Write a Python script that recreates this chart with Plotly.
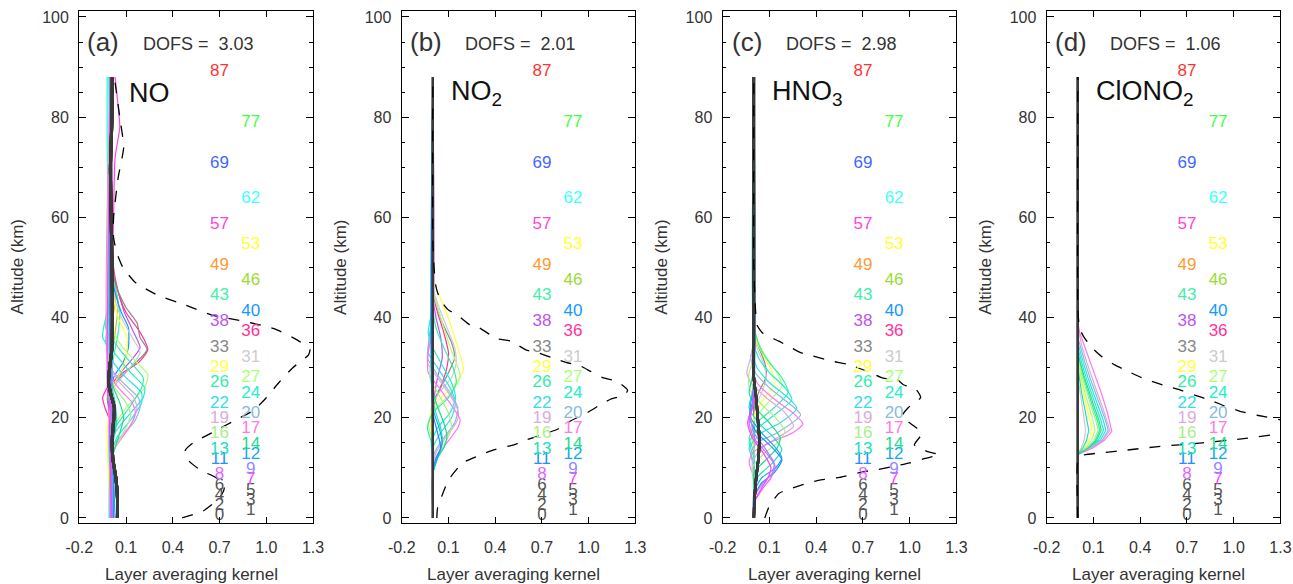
import plotly.graph_objects as go

# ---------------------------------------------------------------- data
# retrieval layer bottoms (km); label colours follow the layer
LAYERS = [0, 1, 2, 3, 4, 5, 6, 7, 8, 9, 11, 12, 13, 14, 16, 17, 19, 20, 22, 24,
          26, 27, 29, 31, 33, 36, 38, 40, 43, 46, 49, 53, 57, 62, 69, 77, 87]
LAYER_COLORS = ['#555555'] * 7 + [
    '#ff40ff', '#dd66ff', '#9988ff', '#1e90ff', '#11aaee', '#22ddbb', '#22dd88',
    '#aaee88', '#ff77ee', '#ddaadd', '#88bbdd', '#33ddee', '#22eecc', '#33eeaa',
    '#aaff77', '#ffff44', '#cccccc', '#888888', '#ff3399', '#bb55ee', '#1199ff',
    '#44eeaa', '#99dd33', '#ff9933', '#ffff33', '#ff44dd', '#44ffff', '#4466ff',
    '#44ff44', '#ff3333']

PANEL_TAGS = ['(a)', '(b)', '(c)', '(d)']
SPECIES = ['NO', 'NO<sub>2</sub>', 'HNO<sub>3</sub>', 'ClONO<sub>2</sub>']
DOFS = [3.03, 2.01, 2.98, 1.06]

X_TICKS = [-0.2, 0.1, 0.4, 0.7, 1.0, 1.3]
X_TICK_TEXT = ['-0.2', '0.1', '0.4', '0.7', '1.0', '1.3']
Y_TICKS = [0, 20, 40, 60, 80, 100]

# averaging-kernel rows: layer -> [[altitude km, kernel value], ...]
KERNELS_NO = {
    87: [[0, 0.0], [40, 0.0], [60, 0.0], [75, 0.01], [88, 0.02]],
    77: [[0, 0.0], [45, 0.0], [60, -0.01], [75, -0.02], [88, -0.02]],
    69: [[0, 0.01], [45, 0.01], [70, 0.01], [88, 0.0]],
    62: [[0, -0.01], [40, -0.01], [55, -0.015], [72, -0.02], [88, -0.02]],
    57: [[0, 0.0], [45, 0.01], [60, 0.02], [72, 0.03], [78, 0.06], [82, 0.05], [88, 0.03]],
    53: [[0, 0.0], [40, 0.0], [50, 0.02], [60, 0.0], [88, 0.0]],
    49: [[0, 0.0], [35, 0.0], [44, 0.03], [50, 0.02], [58, 0.0], [88, 0.0]],
    46: [[0, 0.0], [30, 0.0], [37, 0.03], [43, 0.05], [48, 0.02], [55, 0.0], [88, 0.0]],
    43: [[0, 0.0], [26, 0.0], [32, 0.02], [37, 0.05], [41, 0.06], [46, 0.03], [52, 0.0], [88, 0.0]],
    40: [[0, 0.0], [22, 0.0], [28, 0.02], [31, 0.08], [34, 0.115], [38, 0.115], [41, 0.07],
         [45, 0.03], [50, 0.0], [88, 0.0]],
    38: [[0, 0.0], [24, 0.0], [28, 0.04], [31, 0.12], [34, 0.19], [37, 0.15], [41, 0.09],
         [44, 0.06], [50, 0.01], [88, 0.0]],
    36: [[0, 0.0], [19, 0.0], [22, -0.035], [24, -0.05], [26, -0.02], [29, 0.08], [31, 0.18],
         [33.6, 0.24], [36, 0.21], [38, 0.17], [41, 0.1], [44, 0.06], [50, 0.02], [88, 0.01]],
    33: [[0, 0.0], [20, 0.0], [24, -0.02], [27, 0.03], [30, 0.13], [33.6, 0.235], [36, 0.19],
         [39, 0.17], [42, 0.1], [46, 0.04], [52, 0.01], [88, 0.01]],
    31: [[0, 0.0], [22, 0.0], [26, 0.02], [29, 0.1], [33, 0.19], [36, 0.14], [40, 0.07],
         [45, 0.02], [88, 0.0]],
    29: [[0, 0.0], [14, -0.02], [18, -0.02], [22, 0.0], [27, 0.03], [30, 0.08], [33, 0.105],
         [36, 0.105], [40, 0.05], [44, 0.02], [50, 0.0], [88, 0.0]],
    27: [[0, 0.0], [14, 0.0], [18, 0.02], [22, 0.1], [26, 0.22], [28.6, 0.24], [31, 0.17],
         [34, 0.08], [38, 0.0], [42, -0.01], [88, 0.0]],
    26: [[0, 0.01], [14, 0.0], [18, 0.03], [22, 0.12], [26, 0.2], [28, 0.21], [31, 0.13],
         [34, 0.05], [38, -0.03], [42, -0.01], [88, -0.01]],
    24: [[0, 0.0], [13, 0.0], [17, 0.03], [21, 0.13], [24, 0.21], [26, 0.22], [29, 0.13],
         [32, 0.05], [36, -0.05], [40, -0.03], [45, 0.0], [88, 0.0]],
    22: [[0, 0.0], [12, 0.0], [16, 0.04], [20, 0.14], [23, 0.2], [25, 0.2], [28, 0.1],
         [31, 0.02], [35, -0.03], [40, -0.01], [88, 0.0]],
    20: [[0, 0.02], [12, 0.0], [15, 0.03], [19, 0.15], [22, 0.19], [24, 0.18], [27, 0.08],
         [30, 0.0], [34, -0.02], [40, 0.0], [88, 0.0]],
    19: [[0, 0.01], [11, 0.0], [15, 0.04], [19, 0.14], [22, 0.17], [24, 0.15], [27, 0.06],
         [30, 0.0], [88, 0.0]],
    17: [[0, 0.0], [11, 0.0], [14, 0.03], [18, 0.12], [21, 0.16], [23, 0.14], [26, 0.05],
         [29, -0.01], [88, 0.0]],
    16: [[0, 0.0], [10, 0.0], [14, 0.03], [18, 0.1], [20.5, 0.13], [23, 0.1], [26, 0.03],
         [29, -0.01], [88, 0.0]],
    14: [[0, 0.01], [9, 0.0], [13, 0.02], [17, 0.06], [20, 0.085], [23, 0.06], [27, 0.01], [88, 0.0]],
    13: [[0, 0.02], [9, 0.01], [14, 0.01], [19, 0.04], [23, 0.03], [28, 0.0], [88, 0.0]],
    12: [[0, 0.03], [8, 0.02], [14, 0.01], [19, 0.03], [24, 0.01], [88, 0.0]],
    11: [[0, 0.02], [8, 0.02], [14, 0.0], [20, 0.02], [26, 0.0], [88, 0.0]],
    9: [[0, 0.01], [8, 0.01], [14, 0.0], [22, 0.01], [88, 0.0]],
    8: [[0, 0.0], [8, 0.0], [15, 0.01], [22, 0.0], [88, 0.0]],
    7: [[0, 0.01], [10, 0.0], [22, -0.01], [26, -0.02], [88, 0.0]],
}
LOW_NO = [[0, 0.045], [4, 0.045], [8, 0.035], [12, 0.015], [16, 0.012], [20, 0.022],
          [22, 0.025], [25, 0.0], [27, -0.012], [30, -0.005], [34, 0.01], [45, 0.012],
          [60, 0.005], [70, 0.0], [80, 0.01], [88, 0.012]]

KERNELS_NO2 = {
    38: [[0, 0], [22, 0], [28, 0.03], [32, 0.06], [36, 0.05], [40, 0.02], [44, 0], [88, 0]],
    36: [[0, 0], [20, 0], [24, 0.02], [27, 0.06], [30, 0.09], [33, 0.1], [37, 0.07], [41, 0.03],
         [45, 0], [88, 0]],
    33: [[0, 0], [19, 0], [23, 0.0], [26, 0.05], [29, 0.1], [32, 0.14], [35, 0.12], [39, 0.06],
         [43, 0.02], [46, 0], [88, 0]],
    31: [[0, 0], [18, 0], [22, -0.01], [25, 0.04], [28, 0.12], [31, 0.15], [34, 0.14], [38, 0.09],
         [42, 0.04], [46, 0], [88, 0]],
    29: [[0, 0], [16, 0], [20, -0.02], [23, 0.02], [26, 0.12], [29.6, 0.197], [33, 0.17],
         [36, 0.14], [39, 0.11], [43, 0.06], [47, 0.01], [88, 0]],
    27: [[0, 0], [15, 0], [19, -0.03], [22, 0.02], [25, 0.12], [28.3, 0.175], [31, 0.15],
         [35, 0.1], [39, 0.06], [43, 0.02], [46, 0], [88, 0]],
    26: [[0, 0], [14, 0], [18, -0.035], [21, 0.0], [24, 0.1], [27, 0.15], [30, 0.13], [34, 0.07],
         [38, 0.02], [42, 0], [88, 0]],
    24: [[0, 0], [12, 0], [15, -0.01], [18, 0.03], [21, 0.11], [24, 0.145], [27, 0.12], [31, 0.05],
         [34, 0.0], [37, -0.03], [41, -0.01], [88, 0]],
    22: [[0, 0], [11, 0], [14, 0.0], [17, 0.05], [20, 0.12], [23, 0.145], [26, 0.11], [30, 0.03],
         [33, -0.03], [37, -0.02], [41, 0], [88, 0]],
    20: [[0, 0], [10, 0], [13, 0.01], [16, 0.07], [19, 0.14], [22, 0.16], [25, 0.11], [29, 0.02],
         [32, -0.035], [36, -0.02], [40, 0], [88, 0]],
    19: [[0, 0], [10, 0], [13, 0.02], [16, 0.08], [19, 0.15], [21, 0.165], [24, 0.12], [28, 0.03],
         [31, -0.035], [35, -0.02], [39, 0], [88, 0]],
    17: [[0, 0], [9, 0], [12, 0.02], [15, 0.09], [18, 0.16], [19.6, 0.175], [22, 0.13], [26, 0.04],
         [29, -0.03], [33, -0.03], [38, 0], [88, 0]],
    16: [[0, 0], [9, 0], [12, 0.02], [15, 0.08], [18, 0.12], [21, 0.1], [25, 0.03], [28, -0.02],
         [32, -0.01], [36, 0], [88, 0]],
    14: [[0, 0], [9, 0], [12, 0.03], [14, 0.07], [16.3, 0.09], [19, 0.07], [23, 0.02], [27, -0.01],
         [31, 0], [88, 0]],
    13: [[0, 0], [9, 0], [12, 0.03], [15, 0.06], [18, 0.05], [22, 0.01], [26, 0], [88, 0]],
    12: [[0, 0], [9, 0], [12, 0.03], [15, 0.06], [18, 0.04], [22, 0], [88, 0]],
    11: [[0, 0], [9, 0], [12, 0.02], [14, 0.05], [17, 0.03], [21, 0], [88, 0]],
}
LOW_NO2 = [[0, 0.0], [88, 0.0]]

KERNELS_HNO3 = {
    33: [[0, 0], [18, 0], [22, 0.0], [25, 0.03], [28.3, 0.08], [31, 0.07], [35, 0.02], [38, 0], [88, 0]],
    31: [[0, 0], [18, 0], [22, 0.01], [25, 0.05], [28, 0.08], [31, 0.06], [34, 0.02], [37, 0], [88, 0]],
    29: [[0, 0], [15, 0], [18, -0.01], [21, 0.01], [24, 0.07], [26.6, 0.13], [29, 0.12], [32, 0.07],
         [35, 0.02], [38, 0], [88, 0]],
    27: [[0, 0], [14, 0], [17, -0.02], [20, 0.01], [23, 0.09], [26.3, 0.18], [29, 0.15], [32, 0.08],
         [35, 0.03], [38, 0], [88, 0]],
    26: [[0, 0], [13, 0], [16, -0.03], [19, 0.02], [22, 0.13], [25, 0.22], [28, 0.18], [31, 0.1],
         [34, 0.04], [37, 0.01], [40, 0], [88, 0]],
    24: [[0, 0], [12, 0], [15, -0.03], [18, 0.03], [21, 0.15], [23.6, 0.244], [26, 0.2], [29, 0.1],
         [32, 0.03], [35, 0], [88, 0]],
    22: [[0, 0], [11, 0], [14, -0.03], [17, 0.05], [19, 0.17], [21.9, 0.276], [24, 0.22], [27, 0.1],
         [30, 0.02], [33, -0.01], [36, 0], [88, 0]],
    20: [[0, 0], [10, 0], [13, -0.02], [15, 0.02], [17, 0.15], [20.6, 0.3], [23, 0.22], [26, 0.1],
         [29, 0.01], [32, -0.02], [35, 0], [88, 0]],
    19: [[0, 0], [8, 0], [11, -0.01], [14, 0.05], [16, 0.15], [18.3, 0.255], [21, 0.2], [24, 0.08],
         [27, -0.02], [29, -0.045], [32, -0.02], [35, 0], [88, 0]],
    17: [[0, 0], [8, 0], [11, -0.03], [13, -0.01], [15, 0.1], [17, 0.25], [18.8, 0.315], [21, 0.25],
         [24, 0.12], [27, 0.02], [30, -0.01], [33, 0], [88, 0]],
    16: [[0, 0], [7, 0], [10, -0.01], [13, 0.07], [15, 0.15], [17.3, 0.2], [20, 0.14], [23, 0.04],
         [26, -0.03], [29, -0.03], [32, 0], [88, 0]],
    14: [[0, 0], [6, 0], [9, 0.0], [12, 0.09], [14, 0.15], [16, 0.17], [19, 0.1], [22, 0.01],
         [25, -0.03], [28, -0.01], [31, 0], [88, 0]],
    13: [[0, 0], [5, 0], [8, 0.02], [11, 0.12], [13.6, 0.18], [16, 0.13], [19, 0.03], [22, -0.03],
         [25, -0.01], [28, 0], [88, 0]],
    12: [[0, 0], [5, 0], [8, 0.05], [10, 0.14], [12, 0.18], [14, 0.14], [17, 0.05], [20, -0.02],
         [23, -0.02], [26, 0], [88, 0]],
    11: [[0, 0], [4, 0], [7, 0.05], [9, 0.13], [11.6, 0.18], [14, 0.12], [17, 0.02], [20, -0.03],
         [23, -0.01], [26, 0], [88, 0]],
    9: [[0, 0], [4, 0], [7, 0.06], [9, 0.12], [11, 0.13], [14, 0.07], [17, 0], [20, -0.02],
        [24, 0], [88, 0]],
    8: [[0, 0], [3, 0], [6, 0.06], [8, 0.11], [10.3, 0.137], [13, 0.08], [16, 0.0], [19, -0.03],
        [22, -0.01], [25, 0], [88, 0]],
    7: [[0, 0], [3, 0], [6, 0.05], [8, 0.09], [10, 0.11], [13, 0.06], [16, -0.01], [19, -0.04],
        [22, -0.01], [25, 0], [88, 0]],
}
LOW_HNO3 = [[0, 0.0], [4, 0.005], [8, 0.015], [12, 0.03], [16, 0.035], [20, 0.025], [24, 0.015],
            [28, 0.0], [35, 0.0], [88, 0.0]]

KERNELS_CLONO2 = {
    17: [[0, 0], [12.7, 0], [14, 0.1], [15.5, 0.17], [17.3, 0.218], [19.5, 0.2], [21, 0.19],
         [25, 0.15], [28, 0.115], [31, 0.08], [34, 0.045], [37, 0.012], [39, 0], [88, 0]],
    19: [[0, 0], [12.7, 0], [14, 0.09], [15.5, 0.16], [17.5, 0.205], [19.5, 0.187], [22, 0.16],
         [25, 0.125], [28, 0.09], [31, 0.058], [34, 0.028], [37, 0.005], [38, 0], [88, 0]],
    20: [[0, 0], [12.7, 0], [14, 0.088], [15.5, 0.156], [17.5, 0.195], [19.5, 0.177], [22, 0.148],
         [25, 0.112], [28, 0.078], [31, 0.046], [34, 0.018], [36, 0], [88, 0]],
    22: [[0, 0], [12.7, 0], [14, 0.081], [15.5, 0.144], [17.5, 0.18], [19.5, 0.163], [22, 0.134],
         [25, 0.098], [28, 0.065], [31, 0.035], [34, 0.01], [35, 0], [88, 0]],
    24: [[0, 0], [12.7, 0], [14, 0.074], [15.5, 0.132], [17.5, 0.165], [19.5, 0.148], [22, 0.12],
         [25, 0.085], [28, 0.053], [31, 0.025], [34, 0], [88, 0]],
    14: [[0, 0], [12.7, 0], [14, 0.068], [15.5, 0.12], [17.5, 0.15], [19.5, 0.135], [22, 0.107],
         [25, 0.074], [28, 0.043], [31, 0.016], [33, 0], [88, 0]],
    26: [[0, 0], [12.7, 0], [14, 0.063], [15.5, 0.112], [17.5, 0.14], [19.5, 0.125], [22, 0.097],
         [25, 0.065], [28, 0.036], [31, 0.012], [33, 0], [88, 0]],
    16: [[0, 0], [12.7, 0], [14, 0.058], [15.5, 0.104], [17.5, 0.13], [19.5, 0.115], [22, 0.088],
         [25, 0.057], [28, 0.03], [31, 0.008], [32, 0], [88, 0]],
    27: [[0, 0], [12.7, 0], [14, 0.05], [15.5, 0.088], [17.5, 0.11], [19.5, 0.097], [22, 0.073],
         [25, 0.045], [28, 0.022], [31, 0], [88, 0]],
    29: [[0, 0], [12.7, 0], [14, 0.04], [15.5, 0.072], [17.5, 0.09], [19.5, 0.078], [22, 0.058],
         [25, 0.035], [28, 0.015], [30, 0], [88, 0]],
    13: [[0, 0], [12.7, 0], [14, 0.032], [15.5, 0.056], [17.5, 0.07], [19.5, 0.06], [22, 0.043],
         [25, 0.024], [28, 0.008], [30, 0], [88, 0]],
    31: [[0, 0], [12.7, 0], [14, 0.022], [15.5, 0.04], [17.5, 0.05], [19.5, 0.042], [22, 0.03],
         [25, 0.015], [28, 0], [88, 0]],
}
LOW_CLONO2 = [[0, 0.0], [88, 0.0]]

# total-column sensitivity (sum of each kernel column): [[altitude km, value], ...]
DASH_NO = [[0, 0.46], [1.5, 0.6], [4, 0.7], [6, 0.73], [8, 0.68], [9.5, 0.58], [11.5, 0.5],
           [13.5, 0.48], [15, 0.53], [17, 0.65], [19.5, 0.8], [21.5, 0.92], [24, 1.0], [27, 1.08],
           [30, 1.17], [32.5, 1.27], [33.6, 1.28], [35.5, 1.2], [37.8, 1.05], [39.3, 0.85],
           [40.5, 0.65], [42.5, 0.48], [44.5, 0.3], [47, 0.16], [50, 0.08], [53, 0.04], [56, 0.02],
           [60, 0.02], [68, 0.05], [74, 0.085], [80, 0.06], [88, 0.025]]
DASH_NO2 = [[0, 0.025], [2, 0.03], [5, 0.065], [7.6, 0.1], [10, 0.16], [11, 0.19], [12.5, 0.3],
            [13.6, 0.39], [14.6, 0.52], [15.6, 0.6], [16.5, 0.69], [17.7, 0.8], [19.3, 0.88],
            [21, 0.99], [22.7, 1.08], [23.7, 1.14], [24.5, 1.23], [25.5, 1.25], [27.3, 1.18],
            [28, 1.09], [29.3, 1.01], [30.3, 0.95], [31, 0.86], [31.6, 0.8], [33, 0.67],
            [33.5, 0.6], [35.3, 0.5], [35.8, 0.41], [37.9, 0.3], [38.5, 0.24], [40.7, 0.15],
            [41.5, 0.1], [43, 0.06], [45, 0.03], [47, 0.015], [55, 0.0], [88, 0.0]]
DASH_HNO3 = [[0, 0.07], [2.4, 0.1], [4.9, 0.16], [5.7, 0.22], [6.9, 0.34], [7.6, 0.43], [8.1, 0.55],
             [9.2, 0.7], [9.7, 0.8], [10.3, 0.9], [11, 1.0], [11.9, 1.1], [12.6, 1.19], [13.3, 1.11],
             [14.6, 1.03], [16.9, 1.08], [18.3, 1.03], [20.3, 0.95], [22, 0.99], [24, 1.07],
             [25.7, 1.04], [26.6, 0.96], [27.6, 0.92], [27.9, 0.83], [29, 0.75], [30.7, 0.6],
             [31.3, 0.5], [32.3, 0.38], [33, 0.3], [34.3, 0.22], [35.3, 0.16], [36.8, 0.06],
             [38.5, 0.02], [42, 0.01], [50, 0.0], [88, 0.0]]
DASH_CLONO2 = [[0, 0.0], [11.5, 0.0], [12.5, 0.03], [13, 0.15], [13.5, 0.3], [14.2, 0.5],
               [15, 0.8], [15.8, 1.05], [16.8, 1.3], [17.5, 1.45], [18.5, 1.45], [19.6, 1.3],
               [20.5, 1.15], [21.3, 1.04], [22.5, 0.93], [23.5, 0.85], [24.5, 0.75], [25.4, 0.67],
               [26.5, 0.55], [28, 0.41], [29.3, 0.32], [30.5, 0.24], [32.3, 0.15], [34, 0.09],
               [36.3, 0.035], [38, 0.01], [42, 0.0], [88, 0.0]]

# ---------------------------------------------------------------- styling
FONT = 'Liberation Sans, Arial, Helvetica, sans-serif'
TEXT_COLOR = '#333333'
LOW_LINE_COLOR = '#3a3a3a'
FLAT = [[0, 0.0], [88, 0.0]]
X_DOMAINS = [[0.0613, 0.2421], [0.3107, 0.4914], [0.5589, 0.7397], [0.8095, 0.9903]]
Y_DOMAIN = [0.1045, 0.9812]
LABEL_X = [0.7, 0.9]          # two columns of layer labels


def label_alt(lay):
    """Vertical anchor of a layer label, slightly above the layer bottom."""
    return lay * 1.02 + 0.4


PANELS = [
    dict(kernels=KERNELS_NO, low=LOW_NO, low_width=3.0, dash=DASH_NO, shape='spline'),
    dict(kernels=KERNELS_NO2, low=LOW_NO2, low_width=2.0, dash=DASH_NO2, shape='spline'),
    dict(kernels=KERNELS_HNO3, low=LOW_HNO3, low_width=2.5, dash=DASH_HNO3, shape='spline'),
    dict(kernels=KERNELS_CLONO2, low=LOW_CLONO2, low_width=2.0, dash=DASH_CLONO2, shape='linear'),
]

fig = go.Figure()
annotations = []
layout = {}

for i, panel in enumerate(PANELS):
    n = '' if i == 0 else str(i + 1)
    xa, ya = 'x' + n, 'y' + n
    x0_px, x1_px = X_DOMAINS[i][0] * 1293, X_DOMAINS[i][1] * 1293

    # kernel rows, upper layers first so the lowest layers end up on top
    for lay, col in reversed(list(zip(LAYERS, LAYER_COLORS))):
        if lay < 7:
            continue
        knots = panel['kernels'].get(lay, FLAT)
        fig.add_trace(go.Scatter(
            x=[v for _, v in knots], y=[a for a, _ in knots], mode='lines',
            line=dict(color=col, width=1.2, shape=panel['shape'], smoothing=0.6),
            xaxis=xa, yaxis=ya, hoverinfo='skip', showlegend=False))
    for lay in LAYERS[:7]:
        knots = panel['low']
        fig.add_trace(go.Scatter(
            x=[v for _, v in knots], y=[a for a, _ in knots], mode='lines',
            line=dict(color=LOW_LINE_COLOR, width=panel['low_width'], shape='spline', smoothing=0.6),
            xaxis=xa, yaxis=ya, hoverinfo='skip', showlegend=False))

    # column sensitivity
    d = panel['dash']
    fig.add_trace(go.Scatter(
        x=[v for _, v in d], y=[a for a, _ in d], mode='lines',
        line=dict(color='black', width=1.3, dash='11px,11px', shape='spline', smoothing=0.5),
        xaxis=xa, yaxis=ya, hoverinfo='skip', showlegend=False))

    # layer labels in two staggered columns
    fig.add_trace(go.Scatter(
        x=[LABEL_X[k % 2] for k in range(len(LAYERS))],
        y=[label_alt(lay) for lay in LAYERS],
        text=[str(lay) for lay in LAYERS], mode='text',
        textfont=dict(family=FONT, size=17, color=LAYER_COLORS),
        textposition='middle center', cliponaxis=False,
        xaxis=xa, yaxis=ya, hoverinfo='skip', showlegend=False))

    layout['xaxis' + n] = dict(
        domain=X_DOMAINS[i], anchor=ya, range=[-0.2, 1.3], automargin=False,
        tickvals=X_TICKS, ticktext=X_TICK_TEXT, ticks='inside', ticklen=6,
        tickwidth=1.2, tickcolor='black', showline=True, linecolor='black',
        linewidth=1.3, mirror='allticks', showgrid=False, zeroline=False,
        ticklabelstandoff=10, tickfont=dict(family=FONT, size=16, color=TEXT_COLOR))
    layout['yaxis' + n] = dict(
        domain=Y_DOMAIN, anchor=xa, range=[-1, 101.2], automargin=False,
        tickvals=Y_TICKS, ticks='inside', ticklen=7, tickwidth=1.2, tickcolor='black',
        minor=dict(tickvals=[v for v in range(5, 100, 5) if v % 20], ticks='inside',
                   ticklen=3.5, tickwidth=1.0, tickcolor='black'),
        showline=True, linecolor='black', linewidth=1.3, mirror='allticks',
        showgrid=False, zeroline=False, ticklabelstandoff=6,
        tickfont=dict(family=FONT, size=16, color=TEXT_COLOR))

    annotations += [
        dict(xref=xa, yref=ya, x=-0.045, y=95.0, text=PANEL_TAGS[i], showarrow=False,
             xanchor='center', yanchor='middle',
             font=dict(family=FONT, size=26, color=TEXT_COLOR)),
        dict(xref=xa, yref=ya, x=0.565, y=94.6, text='DOFS =  %.2f' % DOFS[i], showarrow=False,
             xanchor='center', yanchor='middle',
             font=dict(family=FONT, size=18, color=TEXT_COLOR)),
        dict(xref=xa, yref=ya, x=0.105, y=84.8, text=SPECIES[i], showarrow=False,
             xanchor='left', yanchor='middle', font=dict(family=FONT, size=27, color='#111111')),
        dict(xref='paper', yref='paper', x=((x0_px + x1_px) / 2 - 5) / 1293, y=0.017,
             text='Layer averaging kernel', showarrow=False, xanchor='center', yanchor='middle',
             font=dict(family=FONT, size=17, color=TEXT_COLOR)),
        dict(xref='paper', yref='paper', x=(x0_px - 60.8) / 1293,
             y=(Y_DOMAIN[0] + Y_DOMAIN[1]) / 2, text='Altitude (km)', showarrow=False,
             textangle=-90, xanchor='center', yanchor='middle',
             font=dict(family=FONT, size=17, color=TEXT_COLOR)),
    ]

fig.update_layout(
    template='none',
    width=1293, height=584, margin=dict(l=0, r=0, t=0, b=0),
    paper_bgcolor='white', plot_bgcolor='white', showlegend=False,
    annotations=annotations, **layout)

fig.write_html('out.html')
